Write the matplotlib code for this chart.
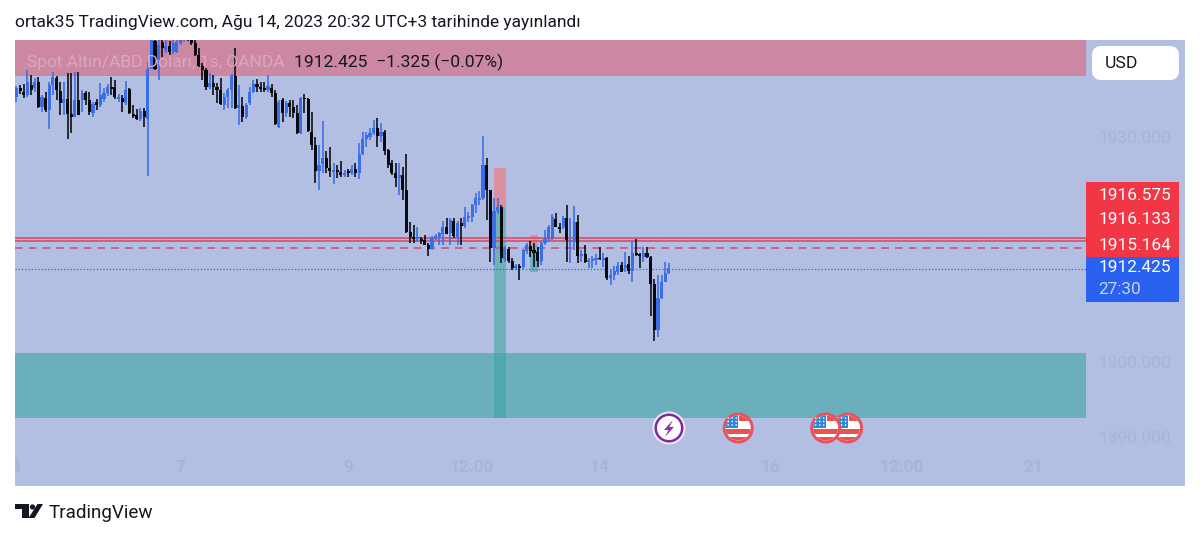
import numpy as np
import matplotlib
matplotlib.use("Agg")
import matplotlib.pyplot as plt
from matplotlib.patches import Rectangle, Circle, Polygon, FancyBboxPatch

plt.rcParams["font.family"] = ["Roboto", "DejaVu Sans"]

# ── XAUUSD 1h candles, prices as offset from 1900 ──────────────────
BASE = 1900
opens = [35.3, 36.5, 36.0, 35.6, 36.9, 36.5, 37.3, 34.0, 35.2, 33.6, 36.9, 37.9, 36.1, 34.5, 35.1, 33.1, 32.7, 34.9, 34.9, 35.9,
         34.9, 33.2, 34.7, 34.3, 35.1, 35.9, 36.7, 36.7, 35.1, 35.2, 34.5, 36.4, 33.1, 32.9, 32.4, 33.5, 32.4, 39.1, 42.8, 40.3,
         42.7, 41.6, 42.1, 41.3, 41.3, 42.5, 42.9, 43.5, 43.2, 42.5, 40.9, 39.5, 38.9, 36.7, 37.2, 36.7, 36.3, 34.3, 35.3, 36.3,
         38.1, 33.9, 34.1, 32.7, 34.5, 36.0, 37.1, 36.7, 36.5, 36.3, 36.5, 35.9, 31.3, 34.9, 33.2, 34.5, 34.0, 33.2, 30.5, 35.2,
         35.1, 30.7, 28.9, 25.5, 26.4, 27.2, 25.9, 25.3, 25.6, 25.3, 24.9, 25.5, 25.2, 25.7, 25.2, 27.7, 29.7, 30.0, 30.5, 31.2,
         30.1, 30.7, 28.3, 26.5, 25.2, 24.5, 24.9, 22.9, 17.3, 16.7, 16.4, 16.4, 16.3, 15.6, 15.1, 16.5, 16.7, 17.1, 18.0, 17.2,
         18.8, 16.7, 18.5, 18.1, 19.2, 19.3, 20.9, 21.6, 21.9, 26.3, 22.9, 15.2, 20.1, 20.7, 13.7, 15.1, 13.5, 12.5, 12.8, 12.7,
         14.8, 15.5, 14.9, 14.7, 13.5, 15.9, 16.4, 16.5, 19.1, 18.0, 18.0, 19.2, 16.0, 16.0, 18.7, 14.1, 14.4, 13.3, 13.5, 13.6,
         13.9, 13.6, 13.9, 11.2, 11.6, 12.0, 12.9, 12.5, 13.1, 12.1, 14.5, 14.4, 14.0, 14.5, 14.0, 10.4, 4.3, 8.5, 10.7, 11.9]
closes = [36.5, 36.1, 35.6, 37.3, 36.3, 37.3, 34.0, 35.3, 33.6, 36.9, 38.0, 36.3, 34.5, 35.1, 33.1, 32.7, 34.9, 32.9, 35.9, 34.9,
          33.3, 34.4, 34.3, 35.6, 35.9, 36.7, 36.4, 35.3, 35.3, 34.7, 36.3, 33.2, 32.8, 32.4, 33.5, 32.7, 39.1, 43.2, 39.1, 42.3,
          41.9, 42.1, 41.3, 42.5, 42.7, 43.2, 43.5, 43.1, 42.5, 40.9, 39.5, 38.9, 36.7, 37.2, 36.7, 36.3, 34.4, 35.3, 36.3, 38.1,
          33.9, 34.3, 32.7, 34.3, 36.0, 37.1, 36.7, 36.4, 36.3, 36.8, 35.9, 31.7, 34.7, 33.2, 34.5, 34.0, 33.2, 30.5, 35.2, 35.1,
          30.8, 28.9, 25.5, 26.3, 27.2, 25.9, 25.5, 25.6, 25.3, 24.9, 25.2, 25.2, 25.7, 25.2, 27.7, 29.7, 30.3, 30.5, 31.2, 30.1,
          30.7, 28.1, 26.3, 25.2, 24.5, 24.9, 22.9, 17.3, 16.7, 16.4, 16.7, 16.1, 15.6, 15.1, 16.5, 16.8, 17.2, 18.0, 17.1, 18.9,
          16.8, 18.5, 18.1, 19.3, 19.5, 20.9, 21.9, 21.9, 26.3, 22.9, 15.2, 20.1, 20.7, 13.9, 15.2, 13.5, 12.5, 12.8, 12.5, 14.9,
          15.6, 14.8, 14.5, 13.5, 15.9, 16.4, 18.0, 19.3, 18.0, 17.7, 19.2, 16.3, 16.3, 18.7, 14.1, 14.4, 13.3, 13.6, 13.7, 13.9,
          13.7, 13.9, 11.2, 11.6, 12.1, 12.8, 12.0, 12.9, 12.1, 14.5, 14.3, 14.1, 14.5, 14.0, 10.4, 4.3, 8.5, 10.7, 11.9, 12.5]
highs = [36.8, 36.9, 37.1, 38.9, 38.3, 37.9, 38.0, 35.6, 36.0, 37.3, 38.7, 38.1, 37.3, 37.3, 38.5, 38.5, 38.7, 38.7, 36.3, 36.1,
         36.0, 34.7, 35.1, 37.2, 36.5, 37.1, 38.0, 37.6, 35.7, 35.6, 37.5, 36.5, 34.3, 33.7, 33.9, 33.9, 40.0, 43.9, 43.2, 43.5,
         43.3, 42.9, 42.8, 43.2, 43.2, 43.9, 43.7, 43.7, 43.5, 42.9, 41.9, 39.9, 39.2, 38.5, 38.3, 37.2, 37.9, 35.9, 36.5, 38.4,
         41.9, 36.9, 35.3, 34.5, 36.7, 37.6, 37.7, 37.3, 37.3, 38.3, 37.1, 36.3, 34.9, 35.2, 34.8, 34.9, 34.9, 34.3, 35.3, 35.7,
         35.2, 33.3, 30.0, 28.9, 32.1, 28.1, 28.7, 26.5, 26.3, 26.8, 25.6, 25.7, 26.3, 26.5, 29.2, 30.7, 30.7, 31.2, 32.3, 32.5,
         31.9, 30.9, 28.4, 26.9, 26.5, 26.5, 26.0, 27.7, 18.7, 18.3, 18.0, 16.7, 16.9, 15.9, 16.8, 17.1, 17.3, 18.8, 19.2, 19.2,
         19.2, 18.8, 19.2, 20.7, 20.0, 21.1, 22.5, 22.8, 30.1, 27.2, 22.9, 21.9, 21.9, 20.9, 15.5, 15.3, 13.9, 13.1, 13.1, 15.1,
         15.9, 16.1, 15.9, 15.3, 16.1, 17.6, 18.3, 19.7, 19.9, 18.5, 19.5, 20.9, 19.2, 20.8, 19.6, 14.9, 15.6, 13.9, 14.1, 14.4,
         15.3, 14.5, 14.0, 12.3, 12.8, 13.3, 13.3, 14.7, 14.1, 16.1, 16.4, 14.5, 15.3, 15.3, 14.1, 11.1, 11.6, 11.6, 13.3, 13.2]
lows = [34.7, 35.7, 35.2, 35.3, 35.6, 36.0, 33.9, 33.3, 33.3, 31.1, 35.6, 34.9, 32.9, 32.9, 29.7, 30.5, 32.7, 32.9, 33.3, 34.3,
        32.9, 32.7, 33.6, 34.0, 34.7, 35.5, 35.6, 35.1, 34.7, 33.3, 34.3, 33.1, 32.5, 32.3, 32.1, 31.3, 24.8, 39.0, 38.9, 37.6,
        40.7, 41.2, 40.9, 41.1, 41.2, 42.3, 42.7, 42.8, 42.3, 40.8, 39.3, 37.6, 36.3, 36.4, 35.6, 34.5, 34.3, 33.6, 33.9, 33.9,
        33.7, 31.6, 32.0, 32.4, 34.3, 35.9, 36.0, 36.0, 36.0, 36.0, 35.3, 31.6, 31.2, 32.0, 32.7, 32.7, 32.5, 30.4, 30.4, 33.2,
        30.7, 28.3, 23.9, 22.9, 25.2, 25.2, 24.7, 23.7, 24.5, 24.7, 24.7, 24.7, 24.9, 24.7, 24.4, 27.6, 28.7, 29.6, 30.3, 28.7,
        29.3, 27.6, 25.9, 24.9, 23.3, 22.3, 21.6, 17.2, 15.9, 15.9, 16.0, 15.7, 15.6, 14.1, 14.9, 16.3, 15.6, 15.6, 17.1, 15.6,
        16.5, 15.6, 15.6, 17.9, 18.7, 18.7, 19.9, 20.9, 21.6, 18.9, 13.3, 12.9, 19.7, 13.2, 13.3, 13.2, 12.3, 12.3, 10.9, 12.4,
        14.4, 14.0, 12.7, 12.7, 12.9, 15.6, 16.0, 16.3, 18.0, 17.2, 17.7, 13.3, 13.2, 14.9, 13.2, 13.3, 13.2, 12.5, 12.5, 12.9,
        13.6, 12.7, 10.9, 10.3, 10.9, 11.6, 12.0, 12.0, 11.7, 10.7, 14.1, 12.5, 13.3, 13.9, 6.1, 2.8, 3.3, 8.4, 10.7, 11.7]

# horizontal levels and zones on the chart
level_upper = 1916.575
level_mid = 1916.133
level_dash = 1915.164
last_price = 1912.425
red_zone = (1938.1, 1950.0)
teal_zone = (1892.5, 1901.2)
zone_end_bar = 293.4
tool_big = (131.0, 134.3, 1925.9, 1920.7, 1892.5)
tool_small = (140.9, 143.1, 1916.9, 1915.6, 1912.0)

price_ticks = [1930, 1900, 1890]
time_ticks = [-0.4, 45, 91, 125, 160, 207, 243, 279]
time_labels = ["4", "7", "9", "12:00", "14", "16", "12:00", "21"]

event_bars = {"bolt": 179, "us": [198, 222, 228]}

# ── Colours ────────────────────────────────────────────────────────
BG = "#b2bfe3"
UP = "#3a6de8"
DOWN = "#08090d"
RED_ZONE = "#cc87a3"
TEAL_ZONE = "#6cafbc"
FAINT = "#a8b3d6"
LINE_RED = "#cf4a68"

W, H = 1200, 537
fig = plt.figure(figsize=(W / 100, H / 100), dpi=100, facecolor="white")
ax = fig.add_axes([15 / W, 1 - 486 / H, 1170 / W, 446 / H], facecolor=BG)

BAR_STEP = 3.645
ax.set_xlim(-0.41, 320.6)
ax.set_ylim(1883.47, 1942.93)
for s in ax.spines.values():
    s.set_visible(False)

ax.axhspan(red_zone[0], red_zone[1], xmin=0, xmax=(zone_end_bar + 0.41) / 321.01, color=RED_ZONE, lw=0, zorder=1)
ax.axhspan(teal_zone[0], teal_zone[1], xmin=0, xmax=(zone_end_bar + 0.41) / 321.01, color=TEAL_ZONE, lw=0, zorder=1)

for x0, x1, top, mid, bot in [tool_big, tool_small]:
    ax.add_patch(Rectangle((x0, mid), x1 - x0, top - mid, color="#dc8f9c", lw=0, zorder=2))
    ax.add_patch(Rectangle((x0, bot), x1 - x0, mid - bot, color="#6fb0bd", lw=0, zorder=2))
ax.add_patch(Rectangle((tool_big[0], teal_zone[0]), tool_big[1] - tool_big[0], teal_zone[1] - teal_zone[0],
                       color="#4fa8ae", lw=0, zorder=2))

ax.fill_between([-0.41, zone_end_bar], level_mid, level_upper, color="#e79aa8", alpha=0.6, lw=0, zorder=3)
ax.plot([-0.41, zone_end_bar], [level_upper] * 2, color=LINE_RED, lw=1.1, zorder=3)
ax.plot([-0.41, zone_end_bar], [level_mid] * 2, color=LINE_RED, lw=1.1, zorder=3)
ax.plot([-0.41, zone_end_bar], [level_dash] * 2, color=LINE_RED, lw=1.1, ls=(0, (5, 4)), zorder=3)
ax.plot([-0.41, zone_end_bar], [last_price] * 2, color="#2f62e0", lw=0.9, ls=(0, (1, 1.6)), zorder=3)

o = np.array(opens) + BASE
c = np.array(closes) + BASE
hi = np.array(highs) + BASE
lo = np.array(lows) + BASE
xs = np.arange(len(o))
cols = [UP if b >= a else DOWN for a, b in zip(o, c)]
ax.vlines(xs, lo, hi, colors=cols, lw=1.15, zorder=4)
ax.bar(xs, np.abs(c - o), bottom=np.minimum(o, c), width=0.85, color=cols, lw=0, zorder=5)

ax.yaxis.tick_right()
ax.set_yticks(price_ticks)
ax.set_yticklabels([f"{p}.000" for p in price_ticks], fontsize=12.4, color=FAINT)
ax.tick_params(axis="y", length=0, pad=-62)
ax.set_xticks(time_ticks)
ax.set_xticklabels(time_labels, fontsize=12.4, color=FAINT, fontweight="bold")
ax.tick_params(axis="x", length=0, pad=-19)
for lbl in ax.get_xticklabels()[:1]:
    lbl.set_clip_on(True)
    lbl.set_clip_box(ax.bbox)

# ── Overlay in pixel coordinates: labels, boxes, icons, logo ───────
ov = fig.add_axes([0, 0, 1, 1], facecolor="none")
ov.set_xlim(0, W)
ov.set_ylim(H, 0)
ov.axis("off")

ov.text(15, 22, "ortak35 TradingView.com, Ağu 14, 2023 20:32 UTC+3 tarihinde yayınlandı",
        fontsize=12.5, color="#131722", va="center")
ov.text(27, 62, "Spot Altın/ABD Doları, 1s, OANDA", fontsize=12.5, color="#d9a8bc", va="center")
ov.text(294, 62, "1912.425  −1.325 (−0.07%)", fontsize=12.6, color="#131722", va="center")

ov.add_patch(FancyBboxPatch((1096, 50), 79, 26, boxstyle="round,pad=0,rounding_size=5",
                            mutation_aspect=1, fc="white", ec="white", lw=8 * 0.72, joinstyle="round"))
ov.text(1105, 63, "USD", fontsize=12.6, color="#131722", va="center")

ov.add_patch(Rectangle((1086, 182), 93, 75, color="#f23645", lw=0))
ov.add_patch(Rectangle((1086, 257), 93, 45, color="#2962f0", lw=0))
for yy, txt in [(195, "1916.575"), (219, "1916.133"), (245, "1915.164"), (268, "1912.425")]:
    ov.text(1171, yy, txt, fontsize=12.4, color="white", va="center", ha="right")
ov.text(1098, 289, "27:30", fontsize=12.4, color="#c4d4fb", va="center")

def event_x(bar):
    return 16.5 + bar * BAR_STEP

def us_icon(cx, cy=428, z=10):
    ov.add_patch(Circle((cx, cy), 15.5, fc="#e9515f", ec="none", zorder=z))
    disc = Circle((cx, cy), 12.5, fc="white", ec="none", zorder=z + 1)
    ov.add_patch(disc)
    parts = [
        Rectangle((cx + 1, cy - 12), 14, 5, color="#e9534f", lw=0),
        Rectangle((cx - 14, cy + 1), 28, 5, color="#e9534f", lw=0),
        Rectangle((cx - 14, cy + 9), 28, 6, color="#e9534f", lw=0),
        Rectangle((cx - 14, cy - 14), 14, 14, color="#2f86d6", lw=0),
    ]
    for p in parts:
        p.set_zorder(z + 2)
        ov.add_patch(p)
        p.set_clip_path(disc)
    for dx in (-10, -6, -2):
        for dy in (-10, -6.5, -3):
            ov.add_patch(Circle((cx + dx, cy + dy), 0.8, fc="white", ec="none", zorder=z + 3))

# purple bolt
bx = event_x(event_bars["bolt"])
ov.add_patch(Circle((bx, 428), 16.5, fc="#f3e6f5", ec="none", zorder=10))
ov.add_patch(Circle((bx, 428), 14.5, fc="#7b2d9f", ec="none", zorder=11))
ov.add_patch(Circle((bx, 428), 12, fc="white", ec="none", zorder=12))
ov.add_patch(Polygon([[bx + 4, 420], [bx - 5, 430], [bx - 0.5, 430], [bx - 4, 437], [bx + 5, 427], [bx + 0.5, 427]],
                     closed=True, fc="#8e2fb5", ec="none", zorder=13))

for bar, z in zip(reversed(event_bars["us"]), (20, 30, 40)):
    us_icon(event_x(bar), z=z)

# TradingView logo
ink = "#131722"
ov.add_patch(Polygon([[15, 504], [29, 504], [29, 518], [21.5, 518], [21.5, 509], [15, 509]], closed=True, fc=ink, ec="none"))
ov.add_patch(Circle((32.5, 507), 2.6, fc=ink, ec="none"))
ov.add_patch(Polygon([[37.5, 504], [43, 504], [34.5, 518], [28.5, 518]], closed=True, fc=ink, ec="none"))
ov.text(49, 513, "TradingView", fontsize=13.6, color=ink, va="center")

fig.savefig("out.png", dpi=100, facecolor="white")
